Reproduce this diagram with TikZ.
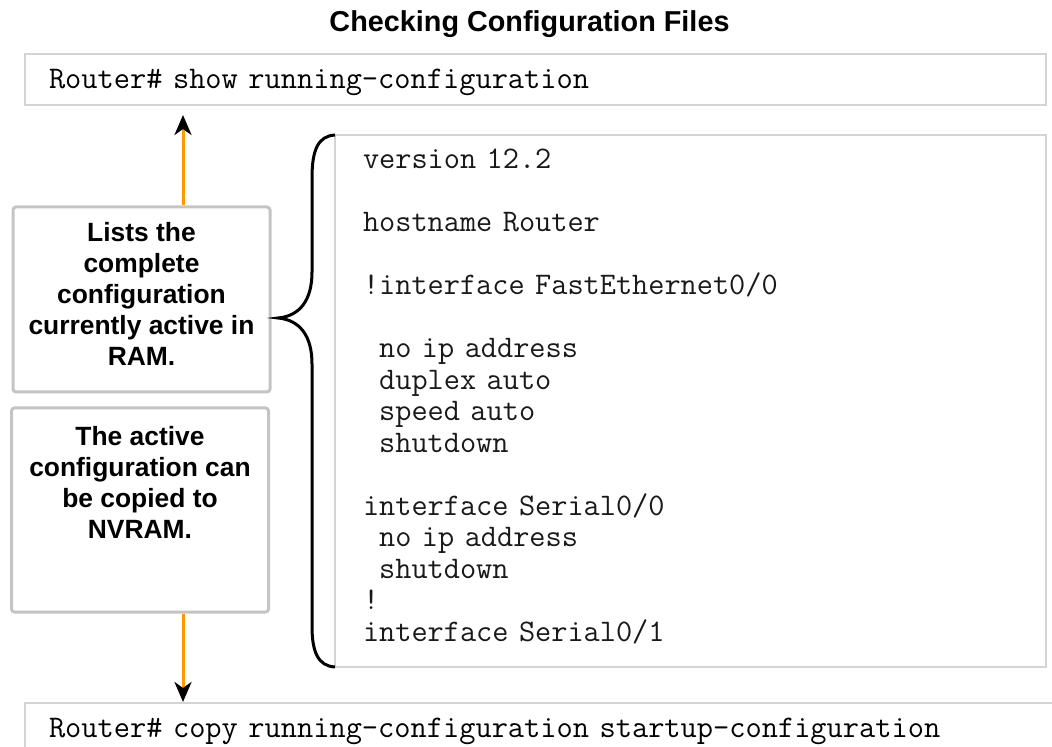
\documentclass[tikz,border=0pt]{standalone}
\usepackage{fontspec}
\setmainfont{Liberation Sans}
\usetikzlibrary{arrows.meta}

\definecolor{boxgray}{HTML}{C4C4C4}
\definecolor{cmdgray}{HTML}{D4D4D4}
\definecolor{flow}{HTML}{FF9900}

% one indent step in the config listing
\newcommand{\ind}{\phantom{x}}

\begin{document}
\begin{tikzpicture}[
    x=0.5pt, y=-0.5pt,
    cmd/.style={draw=cmdgray, line width=1pt, fill=white, minimum height=25.5pt,
        inner xsep=12pt, inner ysep=0pt, text depth=8pt, align=left,
        font=\fontsize{15.75pt}{15.75pt}\selectfont\ttfamily},
    note/.style={draw=boxgray, line width=1.5pt, rounded corners=1.5pt, minimum width=128.5pt,
        align=center, font=\fontsize{13.2pt}{15.5pt}\selectfont\bfseries},
    arrow/.style={draw=flow, line width=1.5pt, -{Stealth[length=10pt, width=8.5pt, inset=3pt, black]}}
]
\useasboundingbox (0,0) rectangle (1052,747);

\node[font=\fontsize{14.4pt}{16pt}\selectfont\bfseries, anchor=base] (title) at (529.5,32)
    {Checking Configuration Files};

% commands
\node[cmd, text width=486.5pt, text height=17.5pt, anchor=north west] (show) at (24,53)
    {Router\# show running-configuration};
\node[cmd, text width=499pt, text height=14pt, minimum height=28pt, anchor=north west] (copy) at (24,702)
    {Router\# copy running-configuration startup-configuration};

% notes on the left
\node[note, minimum height=92.5pt, text depth=5.5pt] (lists) at (141.5,299.5)
    {Lists the\\complete\\configuration\\currently active in\\RAM.};
\node[note, minimum height=102pt, text depth=28pt] (copied) at (140,510)
    {The active\\configuration can\\be copied to\\NVRAM.};

% running config listing
\node[draw=cmdgray, line width=0.75pt, minimum width=355.5pt, minimum height=266pt,
    text width=327.5pt, text height=10pt, text depth=242pt, inner xsep=14pt, align=left,
    text=black!90, font=\fontsize{15.7pt}{15.75pt}\selectfont\ttfamily] (cfg) at (690.5,401)
    {version 12.2\\[15.75pt]
     hostname Router\\[15.75pt]
     !interface FastEthernet0/0\\[15.75pt]
     \ind no ip address\\
     \ind duplex auto\\
     \ind speed auto\\
     \ind shutdown\\[15.75pt]
     interface Serial0/0\\
     \ind no ip address\\
     \ind shutdown\\
     !\\
     interface Serial0/1};

% brace
\draw[line width=1.5pt] (335,135) .. controls (318,136) and (312,150) .. (312,178)
    -- (312,272) .. controls (312,300) and (300,316) .. (278,318)
    .. controls (300,320) and (312,336) .. (312,364)
    -- (312,626) .. controls (312,652) and (318,666) .. (335,667);

% arrows
\coordinate (lane) at (183,0);
\draw[arrow, shorten >=4.5pt] (lists.north -| lane) -- (show.south -| lane);
\draw[arrow] (copied.south -| lane) -- (copy.north -| lane);

\end{tikzpicture}
\end{document}
